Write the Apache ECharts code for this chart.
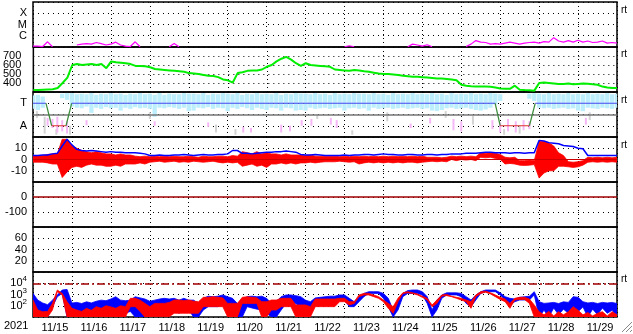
<!DOCTYPE html>
<html><head><meta charset="utf-8">
<script src="https://cdn.jsdelivr.net/npm/echarts@6/dist/echarts.min.js"></script>
<style>html,body{margin:0;padding:0;background:#fff}#c{width:633px;height:334px}</style>
</head><body><div id="c"></div>
<script>
// ---------- labels ----------
const dayLabels = ['11/15','11/16','11/17','11/18','11/19','11/20','11/21','11/22','11/23','11/24','11/25','11/26','11/27','11/28','11/29'];
const yearLabel = '2021';
const xrayTickNames = {'-4':'X','-5':'M','-6':'C'};
const sectorTickNames = {'1':'T','-1':'A'};
const STEP_DAYS = 3/24;   // one sample every 3 hours, days since 11/15 00:00

// ---------- X-ray flux (W/m2) ----------
const xray = [1.2e-7,1.2e-7,1.1e-7,2.9e-7,1.05e-7,null,null,null,null,1.5e-7,
1.8e-7,2e-7,1.8e-7,2.5e-7,2e-7,1.5e-7,1.8e-7,2.7e-7,1.5e-7,1.2e-7,
1.1e-7,2.9e-7,1.05e-7,null,null,null,null,null,1.05e-7,2e-7,
1.05e-7,null,null,null,null,null,null,null,null,null,
null,null,null,null,null,null,null,null,null,null,
null,null,null,null,null,null,null,null,null,null,
null,null,null,null,1.05e-7,1.3e-7,1.05e-7,null,null,null,
null,null,null,null,null,null,null,1.05e-7,1.8e-7,1.5e-7,
1.2e-7,1.6e-7,1.05e-7,null,null,null,null,null,null,1.1e-7,
1.8e-7,3.7e-7,2.7e-7,2.5e-7,1.8e-7,2e-7,1.8e-7,2.2e-7,2.7e-7,2.2e-7,
1.8e-7,2.2e-7,2.5e-7,2.7e-7,2.2e-7,3e-7,2.7e-7,6.8e-7,3.4e-7,2.7e-7,
3.7e-7,2.7e-7,4e-7,2.7e-7,3.4e-7,2.5e-7,2.7e-7,3.4e-7,2.2e-7,2.5e-7,2.2e-7];

// ---------- solar wind speed (km/s) ----------
const speed = [322,322,325,328,330,345,400,460,600,610,
600,605,610,600,610,565,640,630,625,620,
610,590,590,585,575,555,550,545,540,535,
530,525,510,505,500,490,480,478,465,440,
430,405,510,520,535,540,540,550,580,600,
640,670,690,660,620,590,620,600,595,590,
585,580,550,545,540,535,545,540,530,525,
515,505,500,500,495,490,480,475,470,470,
465,460,455,450,450,445,440,430,380,370,
365,362,360,360,358,350,340,335,335,370,
325,322,320,315,400,405,400,395,390,390,
395,385,390,395,392,385,380,360,350,345,345];

// ---------- IMF sector (T = +1, A = -1) ----------
const sectorT = [0,0.334,0.48,0.848,0.994,11.87,12.0,12.75,12.9,15];
const sectorV = [1,1,-1,-1,1,1,-1,-1,1,1];
const cloudHi = [1.7,1.75,1.6,null,null,null,1.85,1.9,1.9,1.8,
1.85,1.8,1.9,1.75,1.85,1.8,1.9,1.8,1.85,1.75,
1.85,1.8,1.9,1.8,1.85,1.75,1.9,1.75,1.85,1.8,
1.8,1.9,1.85,1.85,1.8,1.9,1.75,1.85,1.8,1.9,
1.85,1.8,1.9,1.75,1.85,1.8,1.9,1.8,1.85,1.8,
1.9,1.75,1.85,1.8,1.9,1.85,1.85,1.8,1.9,1.8,
1.85,1.75,1.9,1.8,1.85,1.8,1.9,1.85,1.85,1.8,
1.9,1.8,1.85,1.75,1.9,1.8,1.85,1.8,1.9,1.8,
1.85,1.8,1.9,1.8,1.85,1.75,1.9,1.8,1.85,1.8,
1.9,1.8,1.85,1.8,1.9,1.85,1.8,null,null,null,
null,null,1.85,1.9,1.85,1.8,1.9,1.8,1.85,1.8,
1.9,1.8,1.85,1.8,1.9,1.8,1.85,1.8,1.9,1.8,1.85];
const cloudLo = [0.5,0.4,0.6,null,null,null,1.45,1.3,0.7,0.6,
0.55,0.7,0.15,0.6,0.5,0.65,0.55,0.6,0.35,0.6,
0.5,0.65,0.55,0.6,0.5,-0.2,0.6,0.55,0.65,0.6,
0.5,0.6,0.3,0.35,0.6,0.55,0.65,0.5,0.6,0.55,
0.3,0.6,0.5,0.65,0.55,0.4,0.6,0.5,0.4,0.6,
0.55,0.35,0.6,0.55,0.35,0.4,0.35,0.6,0.5,0.55,
0.6,0.5,0.55,0.6,0.35,0.55,0.6,0.5,0.55,0.35,
0.6,0.5,0.55,0.6,0.5,0.55,0.6,0.5,0.55,0.6,
0.5,0.55,0.35,0.3,0.4,0.55,0.6,0.5,0.55,0.6,
0.5,0.4,0.35,0.45,0.6,0.9,1.2,null,null,null,
null,null,1.4,1.2,0.6,0.55,0.6,0.5,0.55,0.6,
0.5,0.55,0.35,0.3,0.6,0.55,0.5,0.6,0.55,0.5,0.6];
const pinkT  = [0.375,0.5,0.625,0.75,0.875,1.375,3.125,4.5,5.4,5.6,6.375,6.6,6.9,7.15,7.65,7.8,9.7,10.2,10.8,11.0,11.8,12.0,12.2,12.4,12.6,12.75,14.2];
const pinkHi = [-0.3,-0.4,-0.2,-0.5,-0.6,-0.5,-0.6,-0.7,-1.1,-1.2,-0.9,-1.0,-0.5,-0.4,-0.3,-0.5,-0.8,-0.3,-0.4,-0.6,-0.5,-0.7,-0.4,-0.6,-0.5,-0.6,-0.3];
const pinkLo = [-1.0,-1.2,-1.6,-1.5,-1.7,-0.95,-1.0,-1.1,-1.6,-1.6,-1.6,-1.5,-1.0,-1.0,-0.9,-1.2,-1.2,-0.8,-1.4,-1.5,-1.3,-1.6,-1.5,-1.6,-1.4,-1.3,-0.9];
const grayT  = [0.1,0.3,0.6,0.95,3.0,4.7,5.2,7.3,8.2,9.1,10.6,11.3,12.1,12.5,14.3];
const grayHi = [0.3,-0.2,-1.3,-1.0,0.2,-0.9,-1.3,0.0,-1.4,0.2,0.3,-0.1,-1.3,-1.0,0.2];
const grayLo = [-0.3,-1.7,-1.8,-1.8,-0.4,-1.6,-1.8,-0.4,-1.8,-0.6,-0.3,-0.9,-1.8,-1.7,-0.5];

// ---------- IMF |B| and Bz (nT) ----------
const bt = [3.5,3.5,4,4,5,5.5,12,18,13,9,
8,7.5,8,7.5,7,6.5,7,6.5,6.5,6,
6,6,5.5,5,3.5,3.5,4,3.5,3.5,4,
4,4.5,4,3.5,4,4.5,4,4,4.5,4.5,
5,8,8,5.5,5.5,5,5.5,6,6.5,6.5,
7,7,7.5,7,6.5,4.5,4,4,4.5,4,
3.5,3.5,3.5,3.5,4,3.5,4,4,4.5,4.5,
4,4.5,5,4.5,4.5,4,4,4.5,4.5,4,
4,4.5,4.5,4,4.5,4.5,5,5,5,5.5,
5.5,5.5,6,6.5,6.5,6,6,6,5.5,6,
6,5.5,6,6,17,16.5,15,14.5,14,12.5,
12,11.5,10,9.5,3.5,3.5,3.5,3.5,3.5,3.5,3.5];
const bzHi = [3.5,3.5,3.5,4.5,5,5,18,18,12,10,
8,7,6,7,6,5,5,4,5,4,
4,3,2.5,3,2.5,3,2.5,3,2.5,3,
2.5,2.5,3,2.5,2,3,2.5,2.5,3,3,
2.5,3.5,3,7,6,5,7,5,6,5,
5,4,5,4,4,4,3.5,4,3,3,
3,3,3,2.5,3,2.5,3,2.5,3,2.5,
3,2.5,3,2.5,3,2.5,3,2.5,3,2.5,
3,2,2,2,1.5,2,3,2.5,3,2.5,
3,2.5,6,5.5,6,5.5,4.5,2,1.5,2,
-1,-1,-0.5,-1,16,16,15,12,6,3.5,
-2,-2.4,-2,-1,2,1.5,2,1.5,2,1.5,2];
const bzLo = [-2.4,-2.4,-2.4,-3,-4,-4,-16,-11,-7,-6,
-7,-5,-4,-5,-5,-6,-6,-5,-6,-4,
-4,-4,-3,-4,-2.4,-2,-1.5,-2.4,-2,-1.5,
-2.4,-2,-2.4,-1.5,-2,-2.4,-2,-1.5,-2.4,-3,
-2.4,-3,-2.5,-6,-5,-4,-6,-5,-7,-4,
-4,-3,-4,-3,-4,-3,-3,-2.4,-3,-2.4,
-2,-2,-2,-1.5,-2,-2.4,-2,-4,-3,-2.4,
-3,-2.4,-3,-2.4,-3,-2.4,-3,-2.4,-2.4,-3,
-2.4,-2,-1.5,-2,-1.5,-2,0,-1,0,-0.5,
0,-1,2,1.5,2,1,0,-4,-3.5,-4,
-5,-5.3,-5,-4.5,-16.5,-12,-10,-10,-6,-6,
-6.5,-7,-6.5,-5,-2.4,-2,-2.4,-2,-2.4,-2,-2.4];

// ---------- Dst (nT) ----------
const dstT = [0,15];
const dst = [0,0];

// ---------- electron flux, log10 ----------
const eBlueHi = [3.1,2.5,2.24,2.1,2.5,2.96,3.4,3.45,2.24,2.3,
2.2,2.35,2.25,2.4,2.5,2.45,2.6,2.8,2.5,2.45,
2.5,2.8,2.7,2.6,2.4,2.5,2.6,2.66,2.6,2.66,
2.5,2.66,2.5,2.5,2.2,2.66,2.85,2.8,2.85,2.96,
2.8,2.66,2.2,2.5,2.81,2.85,2.8,2.85,2.66,2.2,
2.36,2.81,2.96,2.96,2.9,2.81,2.5,2.36,2.7,2.75,
2.8,2.85,2.85,2.96,2.96,2.66,2.36,2.81,3.1,3.25,
3.25,3.25,3.1,2.66,1.62,2.51,3.1,3.35,3.4,3.4,
3.25,2.81,1.62,2.51,2.96,3.15,3.15,3.15,3.1,2.81,
2.51,2.96,3.25,3.4,3.4,3.4,3.15,2.81,2.66,2.6,
2.75,2.8,2.85,3.25,2.36,2.21,2.25,2.3,2.2,2.35,
2.3,2.81,2.75,2.36,2.25,2.3,2.2,2.3,2.25,2.3,2.2];
const eBlueLo = [1,1,1,1,1.9,2.8,3.1,1,1,1,
1,1,1,1.33,1,1.33,1.5,1.33,1,1.33,
1.5,1,1,1,1.33,1.47,1.62,1.62,1.62,1.62,
1.33,1.62,1.62,1,1,1.62,1.92,1.92,1.92,2.21,
1.62,1,1,1,1.92,1.8,1.7,1.62,1.33,1,
1,1.62,2.21,2.21,2.21,1.77,1.47,1.33,2.21,2.21,
2.21,2.21,2.21,2.51,2.51,1.92,1.92,2.36,2.81,3.1,
3.1,3.1,2.66,1.92,1,1.62,2.81,3.1,3.1,3.1,
2.96,2.21,1,1.62,2.66,2.96,2.96,2.96,2.81,2.21,
1.92,2.51,3.1,3.25,3.25,3.25,2.96,2.51,2.07,2.36,
2.51,2.51,2.51,2.96,1,1.6,1,1.8,1.2,1.7,
1.33,1.47,1.47,1.9,1,1.7,1.2,1.8,1.33,1.6,1];
const eRedHi = [2.5,1.62,1.47,1.5,2.21,3.4,3.1,2.36,1.77,1.62,
1.5,1.77,1.6,1.92,1.77,2,1.9,1.77,2,1.92,
2.66,2.66,2.5,2.21,1.92,2.21,2.21,2.21,2.3,2.51,
2.51,2.45,2.51,2.4,2.36,2.75,2.75,2.8,2.75,2.7,
2.21,2.21,2.21,2.75,2.8,2.75,2.7,2.36,2.36,2.51,
2.51,2.66,2.66,2.66,2.07,2.07,2.07,1.92,2.6,2.6,
2.6,2.6,2.6,2.66,2.66,2.36,2.36,2.96,3.1,3.1,
2.96,2.81,2.51,2.21,1.92,2.66,3.15,3.25,3.15,3.05,
2.85,2.66,2.07,2.51,2.96,3,2.85,2.75,2.66,2.51,
2.36,2.96,3.25,3.3,3.15,2.96,2.75,2.6,2.21,2.66,
2.75,2.75,2.6,2.07,1.47,1.2,1.5,1.1,1.47,1.2,
1.47,1.92,1.6,1.2,1.4,1.1,1.33,1.47,1.1,1.47,1.2];
const eRedLo = [1,1,1,1,1.62,3.25,2.96,1,1,1,
1,1,1,1,1,1,1,1,1,1,
1.92,1.92,1.5,1,1,1.03,1.03,1.03,1.03,1.33,
1.33,1.33,1.33,1.33,1.33,1.92,1.92,1.92,1.92,1.92,
1,1,1,2.21,2.21,2.21,2.21,1,1,1.62,
1.62,1.92,1.92,1.92,1,1,1,1,1.92,1.92,
1.92,1.92,1.92,2.36,2.36,2.07,2.21,2.81,2.96,2.96,
2.81,2.66,2.36,1.77,1.33,2.36,3.1,3.15,3.1,2.96,
2.75,2.51,1.92,2.21,2.86,2.9,2.81,2.66,2.51,2.36,
1.77,2.81,3.1,3.2,3.05,2.81,2.56,2.36,1.77,2.51,
2.56,2.56,2.21,1,1,1,1,1,1,1,
1,1,1,1,1,1,1,1,1,1,1];
const eThreshold = 4;

// ---------- build ----------
const FONT = 'Liberation Sans, Arial, sans-serif';
const tOf = k => k * STEP_DAYS;
const pairs = arr => arr.map((v, k) => [tOf(k), v == null ? '-' : v]);
const N = 7, PL = 33, PR = 16, TOP = 2, PH = 45;
const dotted = {color:'#000', width:1, type:[1,3]};

const grid = [], xAxis = [], yAxis = [];
for (let i = 0; i < N; i++) {
  grid.push({left:PL, right:PR, top:TOP + PH*i, height:PH, show:true, borderColor:'#000', borderWidth:1.5, backgroundColor:'rgba(0,0,0,0)'});
  xAxis.push({gridIndex:i, type:'value', min:0, max:15, interval:1, axisLine:{show:false}, axisTick:{show:false}, axisLabel:{show:false}, splitLine:{show:true, lineStyle:dotted}});
}
xAxis.push({gridIndex:6, type:'category', data:dayLabels, boundaryGap:true, position:'bottom',
  axisLine:{show:false}, axisTick:{show:false}, splitLine:{show:false},
  axisLabel:{interval:0, color:'#000', fontSize:11, fontFamily:FONT, margin:5, padding:[0,0,0,5]}});

const lab = (fmt, margin) => ({color:'#000', fontSize:11, fontFamily:FONT, margin:margin||6, formatter:fmt});
const ySplit = {show:true, lineStyle:{color:'#000', width:1, type:[1,4]}};
const yBase = {axisLine:{show:false}, axisTick:{show:false}, splitLine:ySplit};
yAxis.push(Object.assign({gridIndex:0, type:'log', logBase:10, min:1e-7, max:1e-3,
  axisLabel:lab(v => xrayTickNames[String(Math.round(Math.log10(v)))] || '')}, yBase));
yAxis.push(Object.assign({gridIndex:1, type:'value', min:300, max:800, interval:100,
  axisLabel:lab(v => (v>300 && v<800) ? String(v) : '', 12)}, yBase));
yAxis.push(Object.assign({gridIndex:2, type:'value', min:-2, max:2, interval:1,
  axisLabel:lab(v => sectorTickNames[String(v)] || '')}, yBase));
yAxis.push(Object.assign({gridIndex:3, type:'value', min:-20, max:20, interval:10,
  axisLabel:lab(v => Math.abs(v) < 20 ? String(v) : '')}, yBase));
yAxis.push(Object.assign({gridIndex:4, type:'value', min:-200, max:100, interval:100,
  axisLabel:lab(v => (v > -200 && v < 100) ? String(v) : '')}, yBase));
yAxis.push(Object.assign({gridIndex:5, type:'value', min:0, max:80, interval:20,
  axisLabel:lab(v => (v > 0 && v < 80) ? String(v) : '')}, yBase));
yAxis.push(Object.assign({gridIndex:6, type:'value', min:1, max:5, interval:1,
  axisLabel:Object.assign(lab(v => (v > 1 && v < 5) ? '{b|10}{s|' + v + '}' : ''), {
    rich:{b:{fontSize:11, fontFamily:FONT, color:'#000'}, s:{fontSize:8, fontFamily:FONT, color:'#000', padding:[0,0,8,0]}}})}, yBase));

function rects(gi, times, lo, hi, color, w, z) {
  const data = [];
  times.forEach((t, i) => { if (hi[i] != null && lo[i] != null) data.push([t, lo[i], hi[i]]); });
  return {type:'custom', xAxisIndex:gi, yAxisIndex:gi, clip:true, silent:true, z:z||1, data, encode:{x:0, y:[1,2]},
    renderItem:(p, api) => {
      const a = api.coord([api.value(0), api.value(2)]);
      const b = api.coord([api.value(0), api.value(1)]);
      return {type:'rect', shape:{x:a[0]-w/2, y:a[1], width:w, height:Math.max(1, b[1]-a[1])}, style:{fill:color}};
    }};
}
function band(gi, lo, hi, color, z) {
  return {type:'custom', xAxisIndex:gi, yAxisIndex:gi, clip:true, silent:true, z:z||2, data:[[tOf(0), lo[0]]],
    renderItem:(p, api) => {
      const pts = [];
      for (let k = 0; k < hi.length; k++) pts.push(api.coord([tOf(k), hi[k]]));
      for (let k = lo.length - 1; k >= 0; k--) pts.push(api.coord([tOf(k), lo[k]]));
      return {type:'polygon', shape:{points:pts}, style:{fill:color, stroke:color, lineWidth:0.8}};
    }};
}
const line = (gi, data, color, width, z, extra) => Object.assign({type:'line', xAxisIndex:gi, yAxisIndex:gi, data, symbol:'none',
  silent:true, animation:false, connectNulls:false, z:z||3, lineStyle:{color, width}}, extra||{});

const series = [];
series.push(line(0, pairs(xray), '#ff00ff', 1.2, 3));
series.push(line(1, pairs(speed), '#00ee00', 2, 3));
// sector panel
const cloudTimes = cloudHi.map((_, k) => tOf(k));
series.push(rects(2, grayT, grayLo, grayHi, '#d4d4d4', 2));
series.push(rects(2, pinkT, pinkLo, pinkHi, '#f6b8f6', 2));
series.push(rects(2, cloudTimes, cloudLo, cloudHi, '#bdeefc', 4.3));
series.push(line(2, [], '#777', 1, 4, {markLine:{silent:true, symbol:'none', label:{show:false},
  lineStyle:{color:'#767676', width:1.5, type:'solid'}, data:[{yAxis:0}]}}));
for (let i = 0; i < sectorT.length - 1; i++) {
  const same = sectorV[i] === sectorV[i+1];
  const col = same ? (sectorV[i] > 0 ? '#4848f0' : '#e03030') : '#3c8c3c';
  series.push(line(2, [[sectorT[i], sectorV[i]], [sectorT[i+1], sectorV[i+1]]], col, 1.2, 5));
}
// IMF
series.push(band(3, bzLo, bzHi, '#ff0000', 2));
series.push(line(3, pairs(bt), '#0000ff', 1.5, 4, {markLine:{silent:true, symbol:'none', label:{show:false},
  lineStyle:{color:'#cc0000', width:1, type:'solid'}, data:[{yAxis:0}]}}));
// Dst
series.push(line(4, dstT.map((t, i) => [t, dst[i]]), '#a00000', 1.5, 3));
// empty panel
series.push(line(5, [], '#000', 1, 3));
// electrons
series.push(band(6, eBlueLo, eBlueHi, '#0000ff', 2));
series.push(band(6, eRedLo, eRedHi, '#ff0000', 3));
series.push(line(6, [], '#000', 1, 4, {markLine:{silent:true, symbol:'none', label:{show:false},
  lineStyle:{color:'#a00000', width:1.5, type:[8,3,2,3]}, data:[{yAxis:eThreshold}]}}));

const rtY = [11.5, 55.5, 101, 146, 280];
const graphic = [{type:'text', left:4, top:320, style:{text:yearLabel, font:'11px ' + FONT, fill:'#000'}}];
rtY.forEach(y => graphic.push({type:'text', left:621, top:y-6, style:{text:'rt', font:'10px ' + FONT, fill:'#000'}}));
[[632,322,622,332],[632,326,626,332],[632,330,630,332]].forEach(s =>
  graphic.push({type:'line', shape:{x1:s[0], y1:s[1], x2:s[2], y2:s[3]}, style:{stroke:'#888', lineWidth:1}}));

const chart = echarts.init(document.getElementById('c'));
chart.setOption({animation:false, backgroundColor:'#fff', grid, xAxis, yAxis, series, graphic});
</script></body></html>
